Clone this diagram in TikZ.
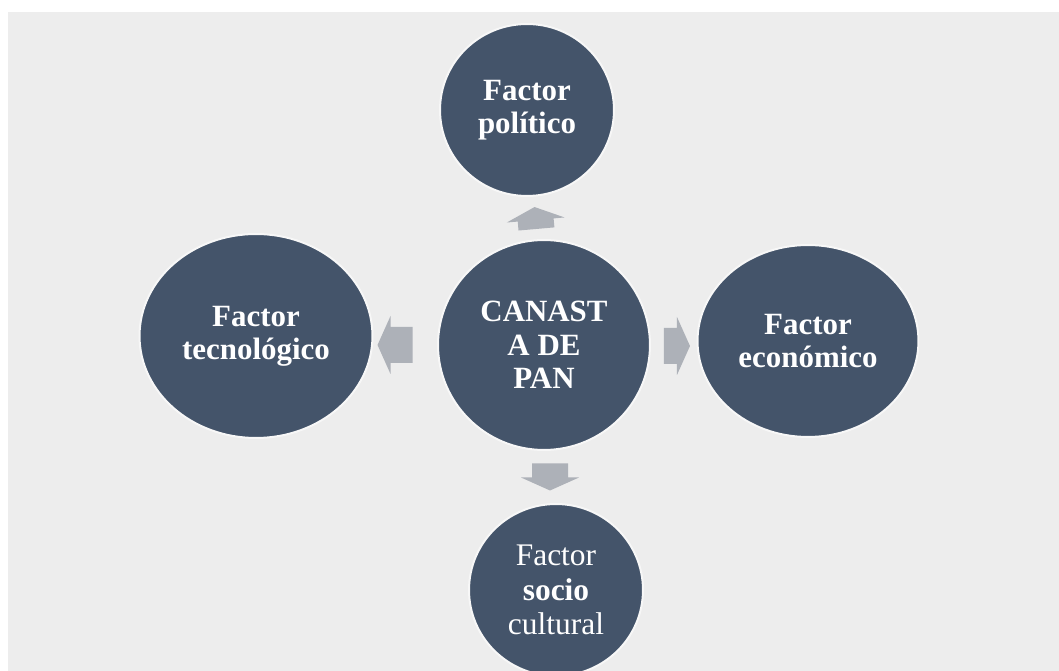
\documentclass[tikz,border=0pt]{standalone}
\usepackage{fontspec}
\setmainfont{Liberation Serif}
\usetikzlibrary{shapes.geometric,calc}

\definecolor{fondo}{HTML}{EDEDED}
\definecolor{azul}{HTML}{44546A}
\definecolor{flecha}{HTML}{ADB1B8}

\tikzset{
    factor/.style={ellipse, fill=azul, draw=white!55!fondo, line width=0.04cm,
        inner sep=0pt, text=white, align=center,
        font=\fontsize{17.6}{19}\selectfont\bfseries},
    pics/flechita/.style={code={
        \fill[flecha] ({-#1/2},-18) -- ({#1/2-13},-18) -- ({#1/2-13},-29)
            -- ({#1/2},0) -- ({#1/2-13},29) -- ({#1/2-13},18) -- ({-#1/2},18) -- cycle;
    }}
}

\begin{document}
\begin{tikzpicture}[x=0.02cm, y=-0.02cm]
    \useasboundingbox (0,0) rectangle (1059,671);
    \clip (0,0) rectangle (1059,671);
    \fill[white] (0,0) rectangle (1059,671);
    \fill[fondo] (8,12) rectangle (1059,671);

    \node[factor, minimum width=4.24cm, minimum height=4.2cm] (canasta) at (544,345) {CANAST\\A DE\\PAN};
    \node[factor, minimum width=3.48cm, minimum height=3.44cm] (politico) at (527,110) {Factor\\político};
    \node[factor, minimum width=4.66cm, minimum height=4.08cm] (tecnologico) at (256,336) {Factor\\tecnológico};
    \node[factor, minimum width=4.42cm, minimum height=3.84cm] (economico) at (808,341) {Factor\\económico};
    \node[factor, minimum width=3.48cm, minimum height=3.44cm,
        font=\fontsize{17.9}{19.8}\selectfont] (sociocultural) at (556,590) {Factor\\\textbf{socio}\\cultural};

    \pic[rotate=95] at ($(canasta.north)!0.5!(politico.south)$) {flechita=22};
    \pic[rotate=180] at ($(canasta.west)+(-42,0)$) {flechita=35};
    \pic at ($(canasta.east)+(26,1)$) {flechita=26};
    \pic[rotate=-90] at ($(canasta.south)!0.5!(sociocultural.north)$) {flechita=27};
\end{tikzpicture}
\end{document}
